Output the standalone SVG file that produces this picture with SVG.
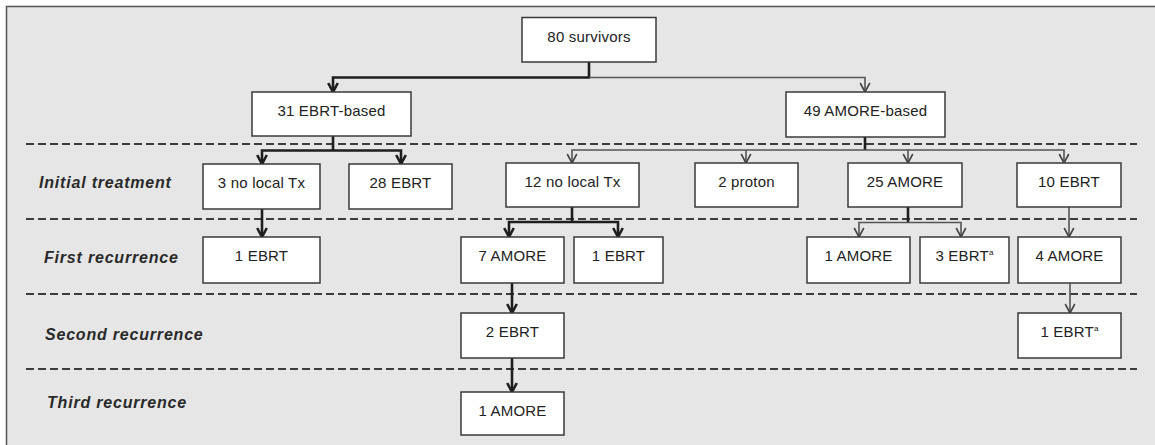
<svg xmlns="http://www.w3.org/2000/svg" width="1155" height="445" viewBox="0 0 1155 445">
  <style>
    .box { fill: #ffffff; stroke: #3a3a3a; stroke-width: 1.5; }
    .lbl { font-family: "Liberation Sans", Arial, sans-serif; font-size: 15px; letter-spacing: 0.2px; fill: #222; text-anchor: middle; }
    .sup { font-size: 8px; }
    .row { font-family: "Liberation Sans", Arial, sans-serif; font-size: 16px; letter-spacing: 0.8px; font-weight: bold; font-style: italic; fill: #2a2a2a; }
    .dash { stroke: #3c3c3c; stroke-width: 2.2; stroke-dasharray: 8 4; fill: none; }
    .thick { stroke: #1e1e1e; stroke-width: 2.6; fill: none; }
    .thin { stroke: #555; stroke-width: 1.6; fill: none; }
    .thickA { stroke: #1e1e1e; stroke-width: 2.6; fill: none; marker-end: url(#aThick); }
    .thinA { stroke: #555; stroke-width: 1.6; fill: none; marker-end: url(#aThin); }
  </style>
  <defs>
    <marker id="aThick" markerUnits="userSpaceOnUse" viewBox="0 0 12 12" markerWidth="12" markerHeight="12" refX="10" refY="6" orient="auto">
      <path d="M1,1.2 L10,6 L1,10.8" fill="none" stroke="#1e1e1e" stroke-width="2.6"/>
    </marker>
    <marker id="aThin" markerUnits="userSpaceOnUse" viewBox="0 0 12 12" markerWidth="12" markerHeight="12" refX="10.5" refY="6" orient="auto">
      <path d="M1.5,1.2 L10.5,6 L1.5,10.8" fill="none" stroke="#444" stroke-width="1.6"/>
    </marker>
  </defs>

  <rect x="0" y="0" width="1155" height="445" fill="#ffffff"/>
  <rect x="7" y="7" width="1148" height="438" fill="#e6e6e6"/>
  <path d="M6.5,445 V6.5 H1155" fill="none" stroke="#555" stroke-width="1.5"/>

  <g id="separators">
    <line class="dash" x1="26" y1="144" x2="1137" y2="144"/>
    <line class="dash" x1="26" y1="219" x2="1137" y2="219"/>
    <line class="dash" x1="26" y1="294" x2="1137" y2="294"/>
    <line class="dash" x1="26" y1="369" x2="1137" y2="369"/>
  </g>

  <g id="row-labels">
    <text class="row" x="39" y="188">Initial treatment</text>
    <text class="row" x="44" y="263">First recurrence</text>
    <text class="row" x="45" y="340">Second recurrence</text>
    <text class="row" x="47" y="408">Third recurrence</text>
  </g>

  <g id="connectors">
    <path class="thick" d="M589,62 V77.5"/>
    <path class="thickA" d="M590,77.5 H333 V92"/>
    <path class="thinA" d="M589,77.5 H865 V92"/>
    <path class="thick" d="M333,136 V150.5"/>
    <path class="thickA" d="M333,150.5 H262 V164"/>
    <path class="thickA" d="M333,150.5 H401 V164"/>
    <path class="thick" d="M865,137 V150"/>
    <path class="thinA" d="M865,150 H572 V163"/>
    <path class="thinA" d="M746,150 V163"/>
    <path class="thinA" d="M865,150 H908 V163"/>
    <path class="thinA" d="M908,150 H1064 V163"/>
    <path class="thickA" d="M262,209 V237"/>
    <path class="thick" d="M572,207 V222"/>
    <path class="thickA" d="M572,222 H509 V237"/>
    <path class="thickA" d="M572,222 H618 V237"/>
    <path class="thick" d="M908,207 V222.5"/>
    <path class="thinA" d="M908,222.5 H859 V237"/>
    <path class="thinA" d="M908,222.5 H961 V237"/>
    <path class="thinA" d="M1069,207 V237"/>
    <path class="thickA" d="M512,283 V313"/>
    <path class="thinA" d="M1070,283 V313"/>
    <path class="thickA" d="M512,358 V392"/>
  </g>

  <g id="n-80-survivors"><rect class="box" x="522" y="17.5" width="134" height="44.5"/><text class="lbl" x="589" y="42">80 survivors</text></g>
  <g id="n-31-ebrt-based"><rect class="box" x="252" y="92" width="159" height="44"/><text class="lbl" x="331.5" y="116">31 EBRT-based</text></g>
  <g id="n-49-amore-based"><rect class="box" x="786" y="92" width="159" height="45"/><text class="lbl" x="865.5" y="116">49 AMORE-based</text></g>

  <g id="n-3-no-local-tx"><rect class="box" x="203" y="164" width="117" height="45"/><text class="lbl" x="261.5" y="188">3 no local Tx</text></g>
  <g id="n-28-ebrt"><rect class="box" x="349" y="164" width="103" height="45"/><text class="lbl" x="400.5" y="188">28 EBRT</text></g>
  <g id="n-12-no-local-tx"><rect class="box" x="506" y="163" width="133" height="44"/><text class="lbl" x="572.5" y="187">12 no local Tx</text></g>
  <g id="n-2-proton"><rect class="box" x="695" y="163" width="103" height="44"/><text class="lbl" x="746.5" y="187">2 proton</text></g>
  <g id="n-25-amore"><rect class="box" x="848" y="163" width="114" height="44"/><text class="lbl" x="905" y="187">25 AMORE</text></g>
  <g id="n-10-ebrt"><rect class="box" x="1017" y="163" width="104" height="44"/><text class="lbl" x="1069" y="187">10 EBRT</text></g>

  <g id="n-1-ebrt-a"><rect class="box" x="203" y="237" width="117" height="46"/><text class="lbl" x="261.5" y="261">1 EBRT</text></g>
  <g id="n-7-amore"><rect class="box" x="461" y="237" width="103" height="46"/><text class="lbl" x="512.5" y="261">7 AMORE</text></g>
  <g id="n-1-ebrt-b"><rect class="box" x="574" y="237" width="89" height="46"/><text class="lbl" x="618.5" y="261">1 EBRT</text></g>
  <g id="n-1-amore-a"><rect class="box" x="807" y="237" width="103" height="46"/><text class="lbl" x="858.5" y="261">1 AMORE</text></g>
  <g id="n-3-ebrt"><rect class="box" x="920" y="237" width="89" height="46"/><text class="lbl" x="964.5" y="261">3 EBRT<tspan class="sup" dy="-6">a</tspan></text></g>
  <g id="n-4-amore"><rect class="box" x="1018" y="237" width="103" height="46"/><text class="lbl" x="1069.5" y="261">4 AMORE</text></g>

  <g id="n-2-ebrt"><rect class="box" x="461" y="313" width="103" height="45"/><text class="lbl" x="512.5" y="337">2 EBRT</text></g>
  <g id="n-1-ebrt-c"><rect class="box" x="1018" y="313" width="103" height="45"/><text class="lbl" x="1069.5" y="337">1 EBRT<tspan class="sup" dy="-6">a</tspan></text></g>

  <g id="n-1-amore-b"><rect class="box" x="461" y="392" width="103" height="43"/><text class="lbl" x="512.5" y="416">1 AMORE</text></g>
</svg>
